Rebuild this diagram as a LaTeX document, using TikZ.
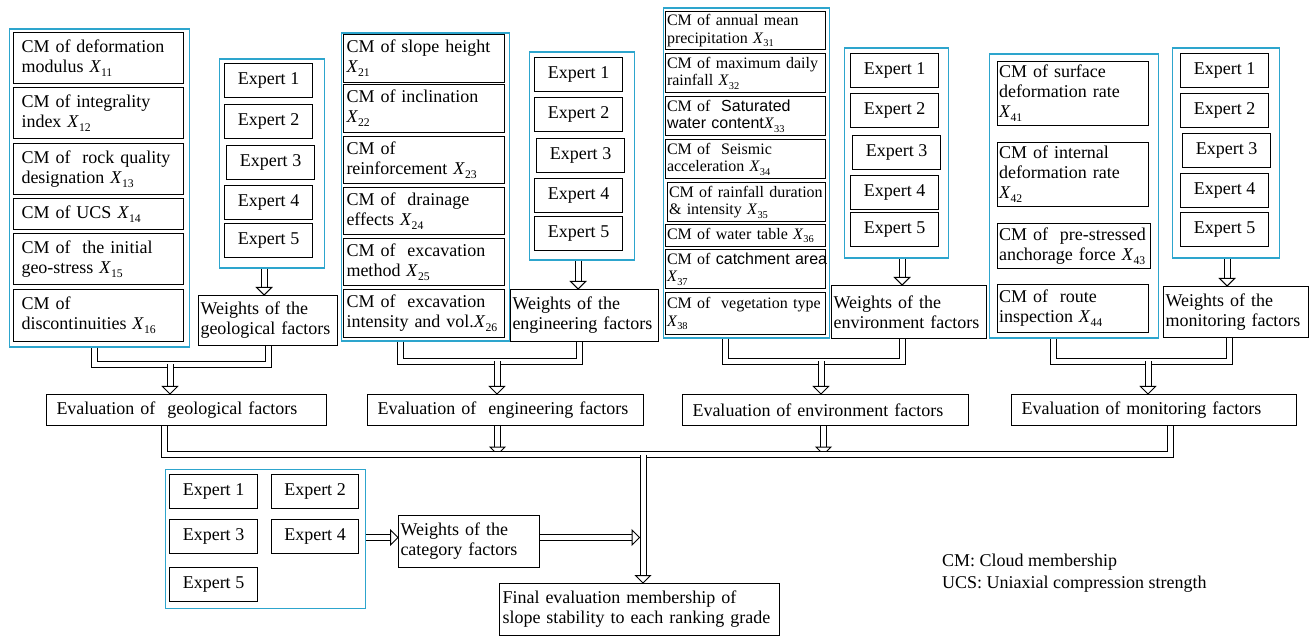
\documentclass[tikz,border=0pt]{standalone}
\usepackage{fontspec}
\setmainfont{Liberation Serif}
\newfontfamily\sansf{Liberation Sans}
\usepackage{graphicx}
\usetikzlibrary{arrows.meta,positioning}
\definecolor{frameblue}{RGB}{45,165,205}
\newcommand{\Xs}[1]{\textit{X}\raisebox{-0.45ex}{\scalebox{0.65}{#1}}}

\begin{document}
\begin{tikzpicture}[
    x=1pt, y=-1pt,
    font=\fontsize{18}{20}\selectfont,
    groupframe/.style={draw=frameblue, line width=1.2pt, anchor=north west, inner sep=0pt},
    factorbox/.style={draw, line width=1pt, anchor=north west, align=left, inner ysep=0pt},
    expert/.style={draw, line width=1pt, anchor=north west, inner sep=0pt, minimum width=88pt, minimum height=34pt},
    pipe/.style={draw, line width=1pt, double, double distance=5pt},
    hollow/.style={pipe, shorten >=7pt},
    arrowhead/.style={draw, line width=1pt, fill=white, line join=miter}
]
\useasboundingbox (0,0) rectangle (1310,636);

% Geologische Faktoren
\node[groupframe, minimum width=180pt, minimum height=318pt] (g1) at (8.5,28.5) {};
\node[factorbox, inner xsep=8pt, text width=154pt, minimum height=51pt] (c11) at (13,32) {CM of deformation\\modulus \Xs{11}};
\node[factorbox, inner xsep=8pt, text width=154pt, minimum height=51pt] (c12) at (13,87) {CM of integrality\\index \Xs{12}};
\node[factorbox, inner xsep=8pt, text width=154pt, minimum height=51pt] (c13) at (13,143) {CM of~ rock quality\\designation \Xs{13}};
\node[factorbox, inner xsep=8pt, text width=154pt, minimum height=31pt] (c14) at (13,198) {CM of UCS \Xs{14}};
\node[factorbox, inner xsep=8pt, text width=154pt, minimum height=51pt] (c15) at (13,233) {CM of~ the initial\\geo-stress \Xs{15}};
\node[factorbox, inner xsep=8pt, text width=154pt, minimum height=52pt] (c16) at (13,289) {CM of\\discontinuities \Xs{16}};

\node[groupframe, minimum width=105pt, minimum height=209pt] (x1) at (218.5,58.5) {};
\node[expert] (x11) at (224,63) {Expert 1};
\node[expert] (x12) at (224,104) {Expert 2};
\node[expert] (x13) at (226,145) {Expert 3};
\node[expert] (x14) at (224,185) {Expert 4};
\node[expert] (x15) at (224,223) {Expert 5};
\node[factorbox, inner xsep=2pt, text width=135pt, minimum height=50pt] (w1) at (198,295) {Weights of the\\geological factors};

% Ingenieurfaktoren
\node[groupframe, minimum width=168pt, minimum height=308pt] (g2) at (340.5,32.5) {};
\node[factorbox, inner xsep=3pt, text width=155pt, minimum height=48pt] (c21) at (343,34) {CM of slope height\\\Xs{21}};
\node[factorbox, inner xsep=3pt, text width=155pt, minimum height=48pt] (c22) at (343,84) {CM of inclination\\\Xs{22}};
\node[factorbox, inner xsep=3pt, text width=155pt, minimum height=47pt] (c23) at (343,136) {CM of\\reinforcement \Xs{23}};
\node[factorbox, inner xsep=3pt, text width=155pt, minimum height=47pt] (c24) at (343,187) {CM of~ drainage\\effects \Xs{24}};
\node[factorbox, inner xsep=3pt, text width=155pt, minimum height=47pt] (c25) at (343,238) {CM of~ excavation\\method \Xs{25}};
\node[factorbox, inner xsep=3pt, text width=155pt, minimum height=48pt] (c26) at (343,289) {CM of~ excavation\\\mbox{intensity and vol.\Xs{26}}};

\node[groupframe, minimum width=105pt, minimum height=208pt] (x2) at (528.5,51.5) {};
\node[expert] (x21) at (534,57) {Expert 1};
\node[expert] (x22) at (534,97) {Expert 2};
\node[expert] (x23) at (536,138) {Expert 3};
\node[expert] (x24) at (534,178) {Expert 4};
\node[expert] (x25) at (534,216) {Expert 5};
\node[factorbox, inner xsep=2pt, text width=144pt, minimum height=52pt] (w2) at (510,289) {Weights of the\\engineering factors};

% Umweltfaktoren
\node[groupframe, minimum width=166pt, minimum height=330pt] (g3) at (662.5,7.5) {};
\begin{scope}[font=\fontsize{16}{17.7}\selectfont]
\node[factorbox, inner xsep=1.5pt, text width=157pt, minimum height=38pt] (c31) at (665,11) {CM of annual mean\\precipitation \Xs{31}};
\node[factorbox, inner xsep=1.5pt, text width=157pt, minimum height=39pt] (c32) at (665,53) {CM of maximum daily\\rainfall \Xs{32}};
\node[factorbox, inner xsep=1.5pt, text width=157pt, minimum height=39pt] (c33) at (665,96) {CM of~ {\sansf Saturated}\\{\sansf water content}\Xs{33}};
\node[factorbox, inner xsep=1.5pt, text width=157pt, minimum height=39pt] (c34) at (665,139) {CM of~ Seismic\\acceleration \Xs{34}};
\node[factorbox, inner xsep=1.5pt, text width=155pt, minimum height=39pt] (c35) at (667,182) {\mbox{CM of rainfall duration}\\\& intensity \Xs{35}};
\node[factorbox, inner xsep=1.5pt, text width=157pt, minimum height=22pt] (c36) at (665,224) {CM of water table \Xs{36}};
\node[factorbox, inner xsep=1.5pt, text width=157pt, minimum height=39pt] (c37) at (665,249) {\mbox{CM of {\sansf catchment area}}\\\Xs{37}};
\node[factorbox, inner xsep=1.5pt, text width=157pt, minimum height=42pt] (c38) at (665,292) {CM of~ vegetation type\\\Xs{38}};
\end{scope}

\node[groupframe, minimum width=104pt, minimum height=210pt] (x3) at (843.5,47.5) {};
\node[expert] (x31) at (850,53) {Expert 1};
\node[expert] (x32) at (850,93) {Expert 2};
\node[expert] (x33) at (852,135) {Expert 3};
\node[expert] (x34) at (850,175) {Expert 4};
\node[expert] (x35) at (850,212) {Expert 5};
\node[factorbox, inner xsep=2pt, text width=151pt, minimum height=53pt] (w3) at (831,285) {Weights of the\\environment factors};

% Monitoringfaktoren
\node[groupframe, minimum width=169pt, minimum height=284pt] (g4) at (988.5,53.5) {};
\node[factorbox, inner xsep=1.5pt, text width=148pt, minimum height=64pt] (c41) at (997,61) {CM of surface\\deformation rate\\\Xs{41}};
\node[factorbox, inner xsep=1.5pt, text width=148pt, minimum height=64pt] (c42) at (997,142) {CM of internal\\deformation rate\\\Xs{42}};
\node[factorbox, inner xsep=1.5pt, text width=150pt, minimum height=45pt] (c43) at (997,223) {\mbox{CM of~ pre-stressed}\\\mbox{anchorage force \Xs{43}}};
\node[factorbox, inner xsep=1.5pt, text width=148pt, minimum height=48pt] (c44) at (997,284) {CM of~ route\\inspection \Xs{44}};

\node[groupframe, minimum width=107pt, minimum height=210pt] (x4) at (1171.5,47.5) {};
\node[expert] (x41) at (1180,53) {Expert 1};
\node[expert] (x42) at (1180,93) {Expert 2};
\node[expert] (x43) at (1182,133) {Expert 3};
\node[expert] (x44) at (1180,173) {Expert 4};
\node[expert] (x45) at (1180,212) {Expert 5};
\node[factorbox, inner xsep=2pt, text width=141pt, minimum height=51pt] (w4) at (1163,286) {Weights of the\\monitoring factors};

% Bewertung
\node[factorbox, inner xsep=10pt, text width=260pt, minimum height=31pt] (e1) at (46,394) {Evaluation of~ geological factors};
\node[factorbox, inner xsep=10pt, text width=256pt, minimum height=31pt] (e2) at (367,394) {Evaluation of~ engineering factors};
\node[factorbox, inner xsep=10pt, text width=266pt, minimum height=31pt] (e3) at (682,394) {Evaluation of environment factors};
\node[factorbox, inner xsep=10pt, text width=265pt, minimum height=31pt] (e4) at (1011,394) {Evaluation of monitoring factors};

% Kategorie
\node[groupframe, minimum width=200pt, minimum height=139pt] (xc) at (164.5,468.5) {};
\node[expert] (y1) at (169,474) {Expert 1};
\node[expert, minimum width=87pt] (y2) at (271,474) {Expert 2};
\node[expert] (y3) at (169,519) {Expert 3};
\node[expert, minimum width=87pt] (y4) at (271,519) {Expert 4};
\node[expert] (y5) at (169,567) {Expert 5};
\node[factorbox, inner xsep=2pt, text width=137pt, minimum height=52pt] (wc) at (398,515) {Weights of the\\category factors};
\node[factorbox, inner xsep=3pt, text width=274pt, minimum height=52pt] (fin) at (499,583) {Final evaluation membership of\\slope stability to each ranking grade};

% Legende
\node[anchor=north west, align=left, inner sep=0pt, font=\fontsize{18}{21.5}\selectfont] (leg) at (942,554) {CM: Cloud membership\\UCS: Uniaxial compression strength};

% Verbindungen
\coordinate (j1) at (170,364.5);
\coordinate (j2) at (497,361.5);
\coordinate (j3) at (821,361.5);
\coordinate (j4) at (1148,361.5);
\coordinate (bus) at (643,454.5);

% Experten -> Gewichte
\draw[hollow] ([xshift=-7.5pt]x1.south) -- ([xshift=-7.5pt]x1.south |- w1.north) coordinate (t1);
\draw[hollow] ([xshift=-3.5pt]x2.south) -- ([xshift=-3.5pt]x2.south |- w2.north) coordinate (t2);
\draw[hollow] ([xshift=6pt]x3.south) -- ([xshift=6pt]x3.south |- w3.north) coordinate (t3);
\draw[hollow] ([xshift=1.5pt]x4.south) -- ([xshift=1.5pt]x4.south |- w4.north) coordinate (t4);
\draw[arrowhead] (t1) -- ++(-7.5,-7.5) -- ++(15,0) -- cycle;
\draw[arrowhead] (t2) -- ++(-7.5,-7.5) -- ++(15,0) -- cycle;
\draw[arrowhead] (t3) -- ++(-7.5,-7.5) -- ++(15,0) -- cycle;
\draw[arrowhead] (t4) -- ++(-7.5,-7.5) -- ++(15,0) -- cycle;

% Zusammenfuehrung -> Bewertung
\draw[pipe] ([xshift=-4.5pt]g1.south) |- (j1) -| (w1.south);
\draw[pipe] ([xshift=-24.5pt]g2.south) |- (j2) -| ([xshift=-5.5pt]w2.south);
\draw[pipe] ([xshift=-20.5pt]g3.south) |- (j3) -| ([xshift=-7pt]w3.south);
\draw[pipe] ([xshift=-20pt]g4.south) |- (j4) -| ([xshift=-6.5pt]w4.south);

\draw[hollow] (j1) -- (j1 |- e1.north) coordinate (t5);
\draw[hollow] (j2) -- (j2 |- e2.north) coordinate (t6);
\draw[hollow] (j3) -- (j3 |- e3.north) coordinate (t7);
\draw[hollow] (j4) -- (j4 |- e4.north) coordinate (t8);
\draw[arrowhead] (t5) -- ++(-7.5,-7.5) -- ++(15,0) -- cycle;
\draw[arrowhead] (t6) -- ++(-7.5,-7.5) -- ++(15,0) -- cycle;
\draw[arrowhead] (t7) -- ++(-7.5,-7.5) -- ++(15,0) -- cycle;
\draw[arrowhead] (t8) -- ++(-7.5,-7.5) -- ++(15,0) -- cycle;

% Sammelleitung
\draw[hollow] ([xshift=-8pt]e2.south) -- ([xshift=-8pt]e2.south |- bus) coordinate (t9);
\draw[hollow] ([xshift=-2pt]e3.south) -- ([xshift=-2pt]e3.south |- bus) coordinate (t10);
\draw[arrowhead] (t9) -- ++(-7.5,-7.5) -- ++(15,0) -- cycle;
\draw[arrowhead] (t10) -- ++(-7.5,-7.5) -- ++(15,0) -- cycle;
\draw[pipe] ([xshift=-22.5pt]e1.south) |- (bus) -| ([xshift=16.5pt]e4.south);

\draw[hollow] (bus) -- (bus |- fin.north) coordinate (t11);
\draw[arrowhead] (t11) -- ++(-7.5,-7.5) -- ++(15,0) -- cycle;

% Kategoriegewichte
\draw[hollow] ([yshift=4pt]wc.west -| xc.east) -- ([yshift=4pt]wc.west) coordinate (t12);
\draw[hollow] ([yshift=4pt]wc.east) -- ([xshift=-3.5pt,yshift=4pt]wc.east -| bus) coordinate (t13);
\draw[arrowhead] (t12) -- ++(-7.5,-7.5) -- ++(0,15) -- cycle;
\draw[arrowhead] (t13) -- ++(-7.5,-7.5) -- ++(0,15) -- cycle;

\end{tikzpicture}
\end{document}
